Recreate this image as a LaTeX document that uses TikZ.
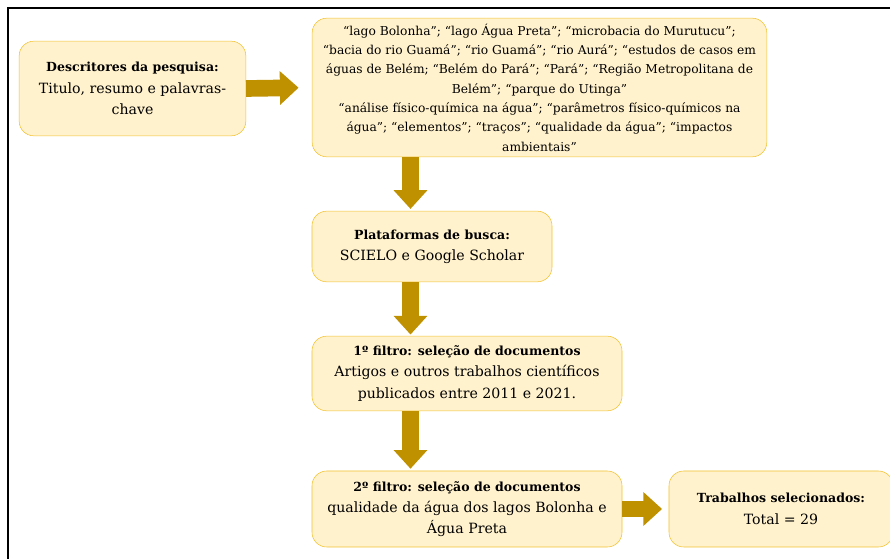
\documentclass[tikz,border=0pt]{standalone}
\usepackage{fontspec}
\setmainfont{DejaVu Serif}
\usetikzlibrary{arrows.meta}

\definecolor{boxfill}{HTML}{FFF2CC}
\definecolor{boxline}{HTML}{F2C12E}
\definecolor{setacor}{HTML}{BF9000}

\newcommand{\titulo}[1]{{\fontsize{9.4}{16}\selectfont\bfseries #1}}

\tikzset{
    etapa/.style={draw=boxline, fill=boxfill, rounded corners=11pt,
        align=center, inner sep=0pt, font=\fontsize{10.6}{16}\selectfont},
    seta/.style={draw=setacor, line width=12.5pt,
        -{Triangle[width=24.5pt,length=14pt]}}
}

\begin{document}
\begin{tikzpicture}[x=0.75pt,y=-0.75pt]
\useasboundingbox (0,0) rectangle (890,559);

% moldura
\draw[line width=1.5pt] (8,559) -- (8,8) -- (890,8);

% caixas
\node[etapa, minimum width=170pt, minimum height=71pt] (desc) at (132.5,88.5)
    {\titulo{Descritores da pesquisa:}\\Titulo, resumo e palavras-\\chave};
\node[etapa, minimum width=341pt, minimum height=104pt,
    font=\fontsize{9.2}{14.5}\selectfont] (termos) at (539.5,87.5)
    {“lago Bolonha”; “lago Água Preta”; “microbacia do Murutucu”;\\
     “bacia do rio Guamá”; “rio Guamá”; “rio Aurá”; “estudos de casos em\\
     águas de Belém; “Belém do Pará”; “Pará”; “Região Metropolitana de\\
     Belém”; “parque do Utinga”\\
     “análise físico-química na água”; “parâmetros físico-químicos na\\
     água”; “elementos”; “traços”; “qualidade da água”; “impactos\\
     ambientais”};
\node[etapa, minimum width=180pt, minimum height=53pt] (busca) at (432,246.5)
    {\titulo{Plataformas de busca:}\\SCIELO e Google Scholar};
\node[etapa, minimum width=232.5pt, minimum height=56pt] (filtro1) at (467,373.5)
    {\titulo{1º filtro: seleção de documentos}\\Artigos e outros trabalhos científicos\\publicados entre 2011 e 2021.};
\node[etapa, minimum width=232.5pt, minimum height=57pt] (filtro2) at (467,509)
    {\titulo{2º filtro: seleção de documentos}\\qualidade da água dos lagos Bolonha e\\Água Preta};
\node[etapa, minimum width=168pt, minimum height=57pt] (total) at (781,509)
    {\titulo{Trabalhos selecionados:}\\Total = 29};

% setas
\coordinate (eixo) at (410.5,0);
\draw[seta, shorten >=10pt] (desc.east) -- (termos.west);
\draw[seta, shorten >=1.5pt] (eixo |- termos.south) -- (eixo |- busca.north);
\draw[seta, shorten >=1pt] (eixo |- busca.south) -- (eixo |- filtro1.north);
\draw[seta, shorten >=1.5pt] (eixo |- filtro1.south) -- (eixo |- filtro2.north);
\draw[seta, shorten >=5pt] (filtro2.east) -- (total.west);

\end{tikzpicture}
\end{document}
